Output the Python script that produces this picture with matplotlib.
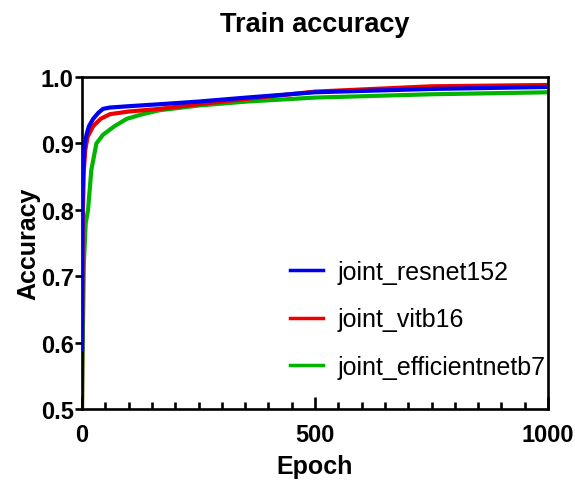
import matplotlib
matplotlib.use('Agg')
import matplotlib.pyplot as plt
from matplotlib.ticker import MultipleLocator

plt.rcParams['font.family'] = ['Liberation Sans', 'DejaVu Sans']

# values (epoch, accuracy)
resnet_epoch = [0, 1, 2, 4, 6, 10, 15, 24, 35, 45, 60, 100, 167, 250, 353, 500, 750, 1000]
resnet_acc = [0.59, 0.80, 0.85, 0.88, 0.90, 0.914, 0.926, 0.937, 0.946, 0.952, 0.954, 0.956, 0.959, 0.963, 0.969, 0.977, 0.982, 0.985]

vit_epoch = [0, 1, 2, 4, 7, 12, 24, 40, 60, 100, 167, 250, 353, 500, 750, 1000]
vit_acc = [0.50, 0.70, 0.80, 0.86, 0.89, 0.91, 0.926, 0.937, 0.944, 0.948, 0.952, 0.959, 0.967, 0.978, 0.986, 0.988]

eff_epoch = [0, 2, 4, 8, 13, 20, 31, 45, 70, 96, 130, 167, 250, 353, 500, 750, 1000]
eff_acc = [0.50, 0.62, 0.72, 0.78, 0.80, 0.86, 0.90, 0.913, 0.926, 0.937, 0.944, 0.950, 0.957, 0.963, 0.969, 0.974, 0.977]

labels = ['joint_resnet152', 'joint_vitb16', 'joint_efficientnetb7']
colors = ['#0000ee', '#ee0000', '#00b400']

fig = plt.figure(figsize=(5.75, 4.81), dpi=100)
ax = fig.add_axes([82 / 575, 1 - 410 / 481, (548 - 82) / 575, (410 - 78) / 481])

ax.plot(resnet_epoch, resnet_acc, color=colors[0], lw=3, label=labels[0], zorder=3)
ax.plot(vit_epoch, vit_acc, color=colors[1], lw=3, label=labels[1], zorder=2)
ax.plot(eff_epoch, eff_acc, color=colors[2], lw=3, label=labels[2], zorder=1)

ax.set_xlim(0, 1000)
ax.set_ylim(0.5, 1.0)
ax.set_xticks([0, 500, 1000])
ax.xaxis.set_minor_locator(MultipleLocator(50))
ax.set_yticks([0.5, 0.6, 0.7, 0.8, 0.9, 1.0])
ax.set_yticklabels(['0.5', '0.6', '0.7', '0.8', '0.9', '1.0'])

for s in ax.spines.values():
    s.set_linewidth(1.9)
ax.tick_params(axis='x', which='major', direction='in', length=9, width=1.9, labelsize=17, pad=10)
ax.tick_params(axis='x', which='minor', direction='in', length=5, width=1.9)
ax.tick_params(axis='y', which='major', direction='out', length=5, width=1.9, labelsize=17, pad=1)
for t in ax.get_xticklabels() + ax.get_yticklabels():
    t.set_fontweight('bold')

ax.set_xlabel('Epoch', fontsize=18, fontweight='bold', labelpad=6)
ax.set_ylabel('Accuracy', fontsize=18, fontweight='bold', labelpad=0)
fig.text(0.5 * (82 + 548) / 575, 1 - 25 / 481, 'Train accuracy', fontsize=19.5,
         fontweight='bold', ha='center', va='center')

leg = ax.legend(loc='lower right', frameon=False, fontsize=18, handlelength=1.3,
                handletextpad=0.6, labelspacing=0.95, borderaxespad=0.0,
                bbox_to_anchor=(1.017, 0.06))
for h in leg.get_lines():
    h.set_linewidth(2.5)

fig.savefig('out.png', dpi=100)
